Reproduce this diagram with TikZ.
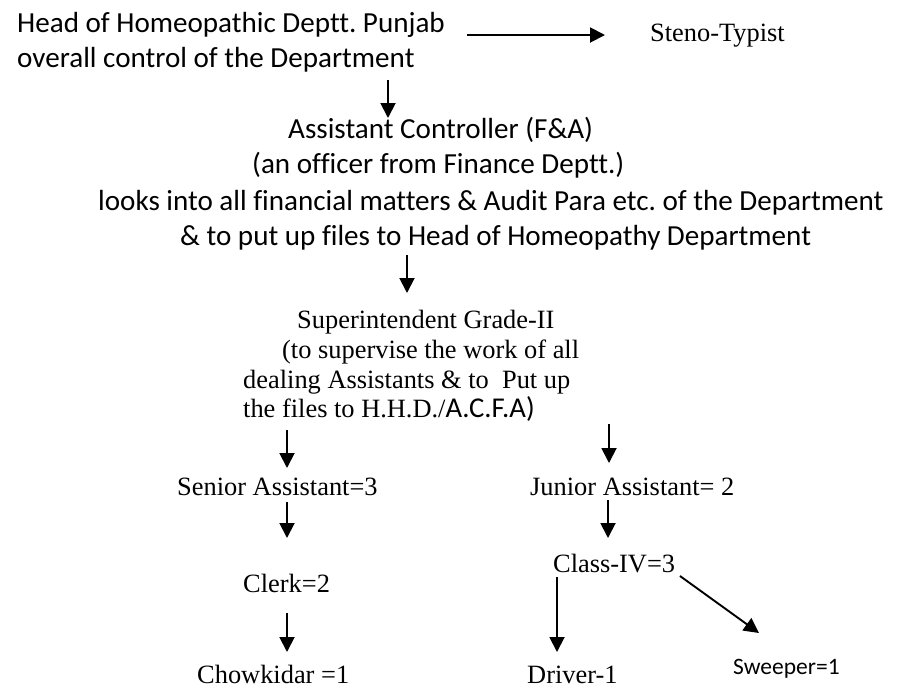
\documentclass[tikz,border=0pt]{standalone}
\usepackage{fontspec}
\setmainfont{Liberation Serif}
\newfontfamily\calfont[Ligatures=NoCommon]{Carlito}
\usetikzlibrary{arrows.meta}
\frenchspacing
\begin{document}
\begin{tikzpicture}[x=1pt,y=-1pt,
  cal/.style={inner sep=0pt,anchor=base west,font=\calfont\fontsize{29.1pt}{35pt}\selectfont},
  tms/.style={inner sep=0pt,anchor=base west,font=\fontsize{26.4pt}{30pt}\selectfont},
  arr/.style={line width=1.9pt,-{Triangle[length=15pt,width=15pt]}}]
\useasboundingbox (0,0) rectangle (899,689);

% texts
\node[cal] (head1) at (17,32) {Head of Homeopathic Deptt. Punjab};
\node[cal] (head2) at (17,67) {overall control of the Department};
\node[tms] (steno) at (650,41) {Steno-Typist};

\node[cal] (ac1) at (288,138) {Assistant Controller (F\&A)};
\node[cal] (ac2) at (252,173) {(an officer from Finance Deptt.)};
\node[cal] (ac3) at (98,210) {looks into all financial matters \& Audit Para etc. of the Department};
\node[cal] (ac4) at (180,245) {\& to put up files to Head of Homeopathy Department};

\node[tms] (sup1) at (297,328) {Superintendent Grade-II};
\node[tms] (sup2) at (282,358) {(to supervise the work of all};
\node[tms] (sup3) at (243,388) {dealing Assistants \& to\ \ Put up};
\node[tms] (sup4) at (243,417) {the files to H.H.D./{\calfont\fontsize{28.7pt}{30pt}\selectfont A.C.F.A)}};

\node[tms] (senior) at (177,495) {Senior Assistant=3};
\node[tms] (junior) at (530,495) {Junior Assistant= 2};
\node[tms] (clerk) at (243,592) {Clerk=2};
\node[tms] (classiv) at (553,572) {Class-IV=3};
\node[tms] (chowk) at (197,683) {Chowkidar =1};
\node[tms] (driver) at (527,683) {Driver-1};
\node[cal,font=\calfont\fontsize{23.5pt}{28pt}\selectfont] (sweeper) at (733,674) {Sweeper=1};

% connector end points
\coordinate (h-s) at (467,35);   \coordinate (s-e) at (605,35);
\coordinate (h-a) at (388,80);   \coordinate (a-e) at (388,118);
\coordinate (a-s) at (407,255);  \coordinate (s-t) at (407,293);
\coordinate (su-l) at (287,430); \coordinate (se-t) at (287,468);
\coordinate (su-r) at (609,424); \coordinate (ju-t) at (609,463);
\coordinate (se-b) at (287,502); \coordinate (cl-t) at (287,538);
\coordinate (ju-b) at (608,500); \coordinate (ci-t) at (608,538);
\coordinate (cl-b) at (287,613); \coordinate (ch-t) at (287,652);
\coordinate (ci-l) at (557,577); \coordinate (dr-t) at (557,652);
\coordinate (ci-r) at (680,576); \coordinate (sw-t) at (759,633);

% connectors
\draw[arr] (h-s) -- (s-e);
\draw[arr] (h-a) -- (a-e);
\draw[arr] (a-s) -- (s-t);
\draw[arr] (su-l) -- (se-t);
\draw[arr] (su-r) -- (ju-t);
\draw[arr] (se-b) -- (cl-t);
\draw[arr] (ju-b) -- (ci-t);
\draw[arr] (cl-b) -- (ch-t);
\draw[arr] (ci-l) -- (dr-t);
\draw[arr] (ci-r) -- (sw-t);
\end{tikzpicture}
\end{document}
